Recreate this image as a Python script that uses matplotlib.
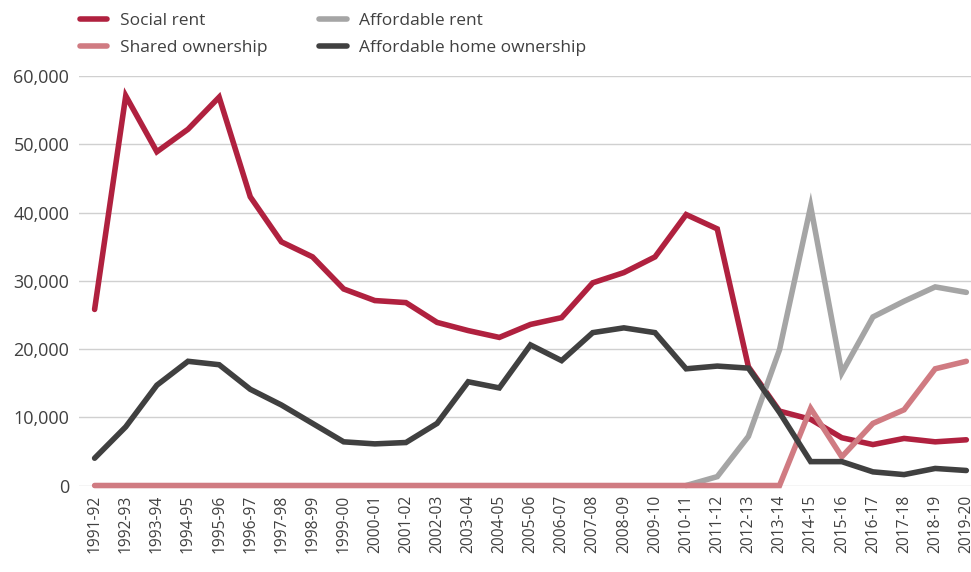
import matplotlib
matplotlib.use("Agg")
import matplotlib.pyplot as plt
import numpy as np

plt.rcParams['font.family'] = ['Open Sans', 'DejaVu Sans']

# financial years
years = ['1991-92', '1992-93', '1993-94', '1994-95', '1995-96', '1996-97', '1997-98',
         '1998-99', '1999-00', '2000-01', '2001-02', '2002-03', '2003-04', '2004-05',
         '2005-06', '2006-07', '2007-08', '2008-09', '2009-10', '2010-11', '2011-12',
         '2012-13', '2013-14', '2014-15', '2015-16', '2016-17', '2017-18', '2018-19',
         '2019-20']

social_rent = [25800, 57100, 48900, 52200, 56900, 42300, 35700, 33500, 28800, 27100,
               26800, 23900, 22700, 21700, 23600, 24600, 29700, 31200, 33500, 39700,
               37600, 17400, 10900, 9700, 7000, 6000, 6900, 6400, 6700]

shared_ownership = [0, 0, 0, 0, 0, 0, 0, 0, 0, 0, 0, 0, 0, 0, 0, 0, 0, 0, 0, 0, 0,
                    0, 0, 11300, 4200, 9100, 11100, 17100, 18200]

# affordable rent only exists from 2010-11
affordable_rent = [np.nan] * 19 + [0, 1300, 7200, 19900, 40900, 16500, 24700, 27000,
                                   29100, 28300]

home_ownership = [4000, 8600, 14700, 18200, 17700, 14100, 11800, 9100, 6400, 6100,
                  6300, 9100, 15200, 14300, 20600, 18300, 22400, 23100, 22400, 17100,
                  17500, 17200, 10700, 3500, 3500, 2000, 1600, 2500, 2200]

x = np.arange(len(years))

fig = plt.figure(figsize=(9.71, 5.72), dpi=100)
ax = fig.add_axes([0.0814, 0.1512, 0.9186, 0.7159])

lw = 4.0
ax.plot(x, social_rent, color='#B0213F', lw=lw, label='Social rent',
        solid_capstyle='round', solid_joinstyle='miter', clip_on=False)
ax.plot(x, shared_ownership, color='#D07B82', lw=lw, label='Shared ownership',
        solid_capstyle='round', solid_joinstyle='miter', clip_on=False, zorder=3)
ax.plot(x, affordable_rent, color='#A5A5A5', lw=lw, label='Affordable rent',
        solid_capstyle='round', solid_joinstyle='miter', clip_on=False, zorder=2.5)
ax.plot(x, home_ownership, color='#404040', lw=lw, label='Affordable home ownership',
        solid_capstyle='round', solid_joinstyle='miter', clip_on=False, zorder=3.5)

ax.set_xlim(-0.5, 28.15)
ax.set_ylim(0, 60000)
ax.set_yticks(np.arange(0, 60001, 10000))
ax.set_yticklabels([f'{v:,}' for v in range(0, 60001, 10000)])
ax.set_xticks(x)
ax.set_xticklabels(years, rotation=90, fontsize=11.2, color='#404040')
ax.tick_params(axis='y', length=0, labelsize=13, labelcolor='#404040', pad=7)
ax.tick_params(axis='x', length=0, pad=7)

ax.grid(axis='y', color='#D0D0D0', lw=1)
ax.set_axisbelow(True)
for s in ax.spines.values():
    s.set_visible(False)

fig.legend(loc='upper left', bbox_to_anchor=(0.066, 1.004), ncol=2, frameon=False,
           fontsize=12.5, handlelength=1.6, handletextpad=0.7, columnspacing=3.0,
           labelspacing=0.6, labelcolor='#404040')

fig.savefig('out.png', dpi=100)
